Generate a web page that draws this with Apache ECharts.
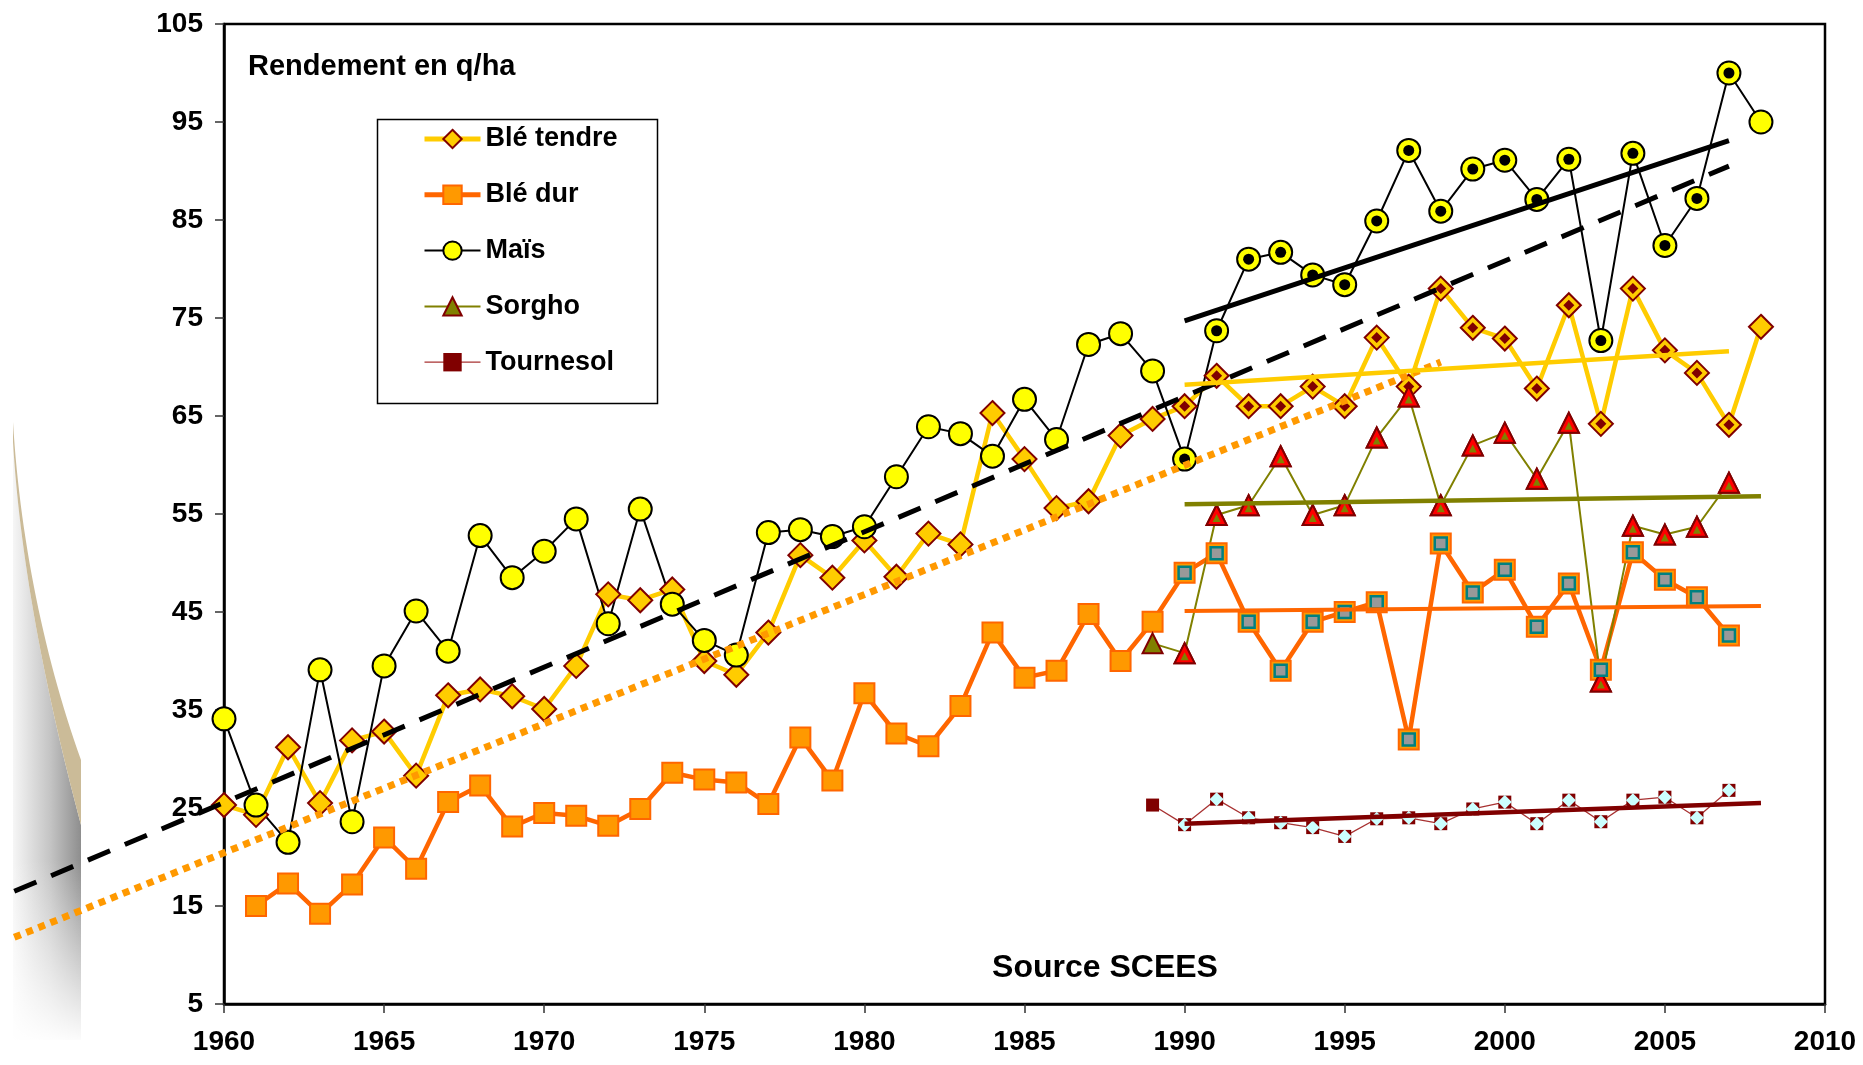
<!DOCTYPE html>
<html><head><meta charset="utf-8">
<script src="https://cdn.jsdelivr.net/npm/echarts@6/dist/echarts.min.js"></script>
<style>html,body{margin:0;padding:0;background:#fff}#c{width:1863px;height:1065px}</style>
</head><body><div id="c"></div>
<script>
// ---------- DATA ----------
const yearsAll = [1960,1961,1962,1963,1964,1965,1966,1967,1968,1969,1970,1971,1972,1973,1974,1975,1976,1977,1978,1979,1980,1981,1982,1983,1984,1985,1986,1987,1988,1989,1990,1991,1992,1993,1994,1995,1996,1997,1998,1999,2000,2001,2002,2003,2004,2005,2006,2007,2008];
const bleTendre = [25.3,24.3,31.2,25.5,31.9,32.8,28.3,36.5,37.1,36.4,35.1,39.5,46.8,46.2,47.3,40.0,38.6,42.9,50.8,48.5,52.3,48.6,53.0,51.9,65.3,60.6,55.6,56.3,63.0,64.7,66.0,69.1,66.0,66.0,68.0,66.0,73.0,68.0,78.0,74.0,72.9,67.8,76.3,64.2,78.0,71.7,69.4,64.1,74.1];
const mais = [34.1,25.3,21.5,39.1,23.6,39.5,45.1,41.0,52.8,48.5,51.2,54.5,43.8,55.5,45.8,42.1,40.6,53.1,53.4,52.7,53.7,58.8,63.9,63.2,60.9,66.7,62.6,72.3,73.4,69.6,60.6,73.7,81.0,81.7,79.4,78.4,84.9,92.1,85.9,90.2,91.1,87.1,91.2,72.7,91.8,82.4,87.2,100.0,95.0];
const yearsBleDur = [1961,1962,1963,1964,1965,1966,1967,1968,1969,1970,1971,1972,1973,1974,1975,1976,1977,1978,1979,1980,1981,1982,1983,1984,1985,1986,1987,1988,1989,1990,1991,1992,1993,1994,1995,1996,1997,1998,1999,2000,2001,2002,2003,2004,2005,2006,2007];
const bleDur = [15.0,17.3,14.2,17.2,22.0,18.8,25.6,27.3,23.1,24.5,24.2,23.2,24.9,28.6,27.9,27.6,25.4,32.2,27.8,36.7,32.6,31.3,35.4,42.9,38.3,39.0,44.8,40.0,44.0,49.0,51.0,44.0,39.0,44.0,45.0,46.0,32.0,52.0,47.0,49.3,43.5,47.9,39.1,51.1,48.3,46.5,42.6];
const yearsLate = [1989,1990,1991,1992,1993,1994,1995,1996,1997,1998,1999,2000,2001,2002,2003,2004,2005,2006,2007];
const sorgho = [41.8,40.8,54.9,55.9,60.9,54.9,55.9,62.8,67.0,55.9,62.0,63.3,58.6,64.3,37.9,53.8,52.9,53.7,58.2];
const tournesol = [25.3,23.3,25.9,24.0,23.5,23.0,22.1,23.9,24.0,23.4,24.9,25.6,23.4,25.8,23.6,25.8,26.1,24.0,26.8];
// trend lines (endpoints: [year, value])
const trendMaisLong = [[1953.45,16.5],[2007,90.5]];
const trendBleTendreLong = [[1953.45,11.8],[1998,70.5]];
const trendMais9007 = [[1990,74.7],[2007,93.1]];
const trendBleTendre9007 = [[1990,68.2],[2007,71.6]];
const trendSorgho = [[1990,56.0],[2008,56.8]];
const trendBleDur = [[1990,45.1],[2008,45.6]];
const trendTournesol = [[1990,23.4],[2008,25.5]];
const seriesNames = ['Blé tendre','Blé dur','Maïs','Sorgho','Tournesol'];
const titleText = 'Rendement en q/ha';
const sourceText = 'Source SCEES';

// ---------- BUILD ----------
const FONT = '"Liberation Sans", Arial, sans-serif';
const pair = (ys, vs) => ys.map((y, i) => [y, vs[i]]);
const late = (ys, vs) => pair(ys, vs).filter(p => p[0] >= 1990 && p[0] <= 2007);
const grad = (x2, y2, stops) => ({ type: 'linear', x: 0, y: 0, x2: x2, y2: y2, colorStops: stops, global: false });
function bez(p0, p1, p2, p3, n) {
  const pts = [];
  for (let i = 0; i <= n; i++) {
    const t = i / n, u = 1 - t;
    pts.push([u*u*u*p0[0] + 3*u*u*t*p1[0] + 3*u*t*t*p2[0] + t*t*t*p3[0],
              u*u*u*p0[1] + 3*u*u*t*p1[1] + 3*u*t*t*p2[1] + t*t*t*p3[1]]);
  }
  return pts;
}
const curlBack = bez([13,442],[20,560],[45,690],[81,825],30);
const curlFront = bez([13,422],[20,540],[45,660],[81,760],30);
const shadowPts = [[13,405]].concat(curlBack, [[81,1040],[13,1040]]);
const beigePts = curlFront.concat(curlBack.slice().reverse());

function trend(data, color, width, z) {
  return { type: 'line', data: data, symbol: 'none', silent: true, z: z || 6,
    lineStyle: { color: color, width: width, cap: 'butt' } };
}
function overlay(data, symbol, size, style, z, offset) {
  return { type: 'line', data: data, symbol: symbol, symbolSize: size, silent: true, z: z,
    showSymbol: true, lineStyle: { width: 0, opacity: 0 },
    symbolOffset: offset || [0, 0], itemStyle: Object.assign({ opacity: 1 }, style) };
}
const legendLineWidths = [5, 5, 2, 2, 1.3];

const chart = echarts.init(document.getElementById('c'), null, { renderer: 'canvas' });
const option = {
  animation: false,
  backgroundColor: '#ffffff',
  textStyle: { fontFamily: FONT },
  grid: { left: 224, right: 38, top: 24, bottom: 61, show: true, borderColor: '#000', borderWidth: 2.5, backgroundColor: 'transparent' },
  xAxis: {
    type: 'value', min: 1960, max: 2010, interval: 5,
    axisLine: { show: true, lineStyle: { color: '#000', width: 2.5 } },
    axisTick: { show: true, length: 9, lineStyle: { color: '#333', width: 1.5 } },
    axisLabel: { formatter: v => String(v), color: '#000', fontSize: 28, fontWeight: 'bold', fontFamily: FONT, margin: 24 },
    splitLine: { show: false }
  },
  yAxis: {
    type: 'value', min: 5, max: 105, interval: 10,
    axisLine: { show: true, lineStyle: { color: '#000', width: 2.5 } },
    axisTick: { show: true, length: 9, lineStyle: { color: '#333', width: 1.5 } },
    axisLabel: { formatter: v => String(v), color: '#000', fontSize: 28, fontWeight: 'bold', fontFamily: FONT, margin: 21 },
    splitLine: { show: false }
  },
  legend: {
    data: seriesNames.map((n, i) => ({ name: n, lineStyle: { width: legendLineWidths[i] } })),
    orient: 'vertical', left: 422, top: 125, padding: 0,
    itemWidth: 56, itemHeight: 23, itemGap: 27.8,
    textStyle: { fontSize: 27, fontWeight: 'bold', color: '#000', fontFamily: FONT, lineHeight: 28 },
    selectedMode: false
  },
  graphic: [
    { type: 'polygon', z: -10, silent: true, shape: { points: shadowPts },
      style: { fill: grad(1, 0, [{ offset: 0, color: '#f6f6f6' }, { offset: 0.55, color: '#c4c4c4' }, { offset: 1, color: '#8e8e8e' }]) } },
    { type: 'rect', z: -9, silent: true, shape: { x: 12, y: 860, width: 70, height: 185 },
      style: { fill: grad(0, 1, [{ offset: 0, color: 'rgba(255,255,255,0)' }, { offset: 1, color: 'rgba(255,255,255,1)' }]) } },
    { type: 'polygon', z: -8, silent: true, shape: { points: beigePts },
      style: { fill: '#CBBB98' } },
    { type: 'rect', z: 1, silent: true, shape: { x: 377.5, y: 119.5, width: 280, height: 284 },
      style: { fill: '#fff', stroke: '#000', lineWidth: 1.5 } },
    { type: 'text', z: 10, silent: true, x: 248, y: 67,
      style: { text: titleText, font: 'bold 29px ' + FONT, fill: '#000', textAlign: 'left', textVerticalAlign: 'middle' } },
    { type: 'text', z: 10, silent: true, x: 1105, y: 968,
      style: { text: sourceText, font: 'bold 32px ' + FONT, fill: '#000', textAlign: 'center', textVerticalAlign: 'middle' } }
  ],
  series: [
    { name: 'Blé tendre', type: 'line', data: pair(yearsAll, bleTendre), z: 2,
      symbol: 'diamond', symbolSize: 24,
      itemStyle: { color: '#FFCC00', borderColor: '#800000', borderWidth: 2 },
      lineStyle: { color: '#FFCC00', width: 4.5 } },
    { name: 'Blé dur', type: 'line', data: pair(yearsBleDur, bleDur), z: 2,
      symbol: 'rect', symbolSize: 20,
      itemStyle: { color: '#FF9900', borderColor: '#FF6600', borderWidth: 2 },
      lineStyle: { color: '#FF6600', width: 4.5 } },
    { name: 'Maïs', type: 'line', data: pair(yearsAll, mais), z: 2,
      symbol: 'circle', symbolSize: 23,
      itemStyle: { color: '#FFFF00', borderColor: '#000', borderWidth: 2 },
      lineStyle: { color: '#000', width: 2 } },
    { name: 'Sorgho', type: 'line', data: pair(yearsLate, sorgho), z: 2,
      symbol: 'triangle', symbolSize: 20,
      itemStyle: { color: '#808000', borderColor: '#800000', borderWidth: 2 },
      lineStyle: { color: '#808000', width: 2 } },
    { name: 'Tournesol', type: 'line', data: pair(yearsLate, tournesol), z: 2,
      symbol: 'rect', symbolSize: 13,
      itemStyle: { color: '#800000', borderWidth: 0 },
      lineStyle: { color: '#A83232', width: 1.3 } },
    overlay(late(yearsAll, bleTendre), 'diamond', 11, { color: '#800000' }, 3),
    overlay(late(yearsAll, mais), 'circle', 11, { color: '#000' }, 3),
    overlay(late(yearsLate, sorgho), 'triangle', 20, { color: '#FF0000', borderColor: '#800000', borderWidth: 2 }, 3),
    overlay(late(yearsLate, sorgho), 'triangle', 8, { color: '#808000' }, 3, [0, 3]),
    overlay(late(yearsBleDur, bleDur), 'rect', 12, { color: '#999999', borderColor: '#008080', borderWidth: 2.5 }, 3),
    overlay(late(yearsLate, tournesol), 'diamond', 14, { color: '#CCFFFF' }, 3),
    trend(trendMais9007, '#000', 5),
    trend(trendBleTendre9007, '#FFCC00', 4.5),
    trend(trendSorgho, '#808000', 4.5),
    trend(trendBleDur, '#FF6600', 4),
    trend(trendTournesol, '#800000', 4.5)
  ]
};
chart.setOption(option);
// long trend lines run past the left axis: place them with the chart's own scales
const px = d => chart.convertToPixel({ gridIndex: 0 }, d);
option.graphic = option.graphic.concat([
  { type: 'polyline', z: 5, silent: true, shape: { points: trendBleTendreLong.map(px) },
    style: { stroke: '#FF9900', lineWidth: 7, lineDash: [7, 6], fill: null, lineCap: 'butt' } },
  { type: 'polyline', z: 5, silent: true, shape: { points: trendMaisLong.map(px) },
    style: { stroke: '#000', lineWidth: 5, lineDash: [24, 16], fill: null, lineCap: 'butt' } }
]);
chart.setOption(option, true);
</script>
</body></html>
